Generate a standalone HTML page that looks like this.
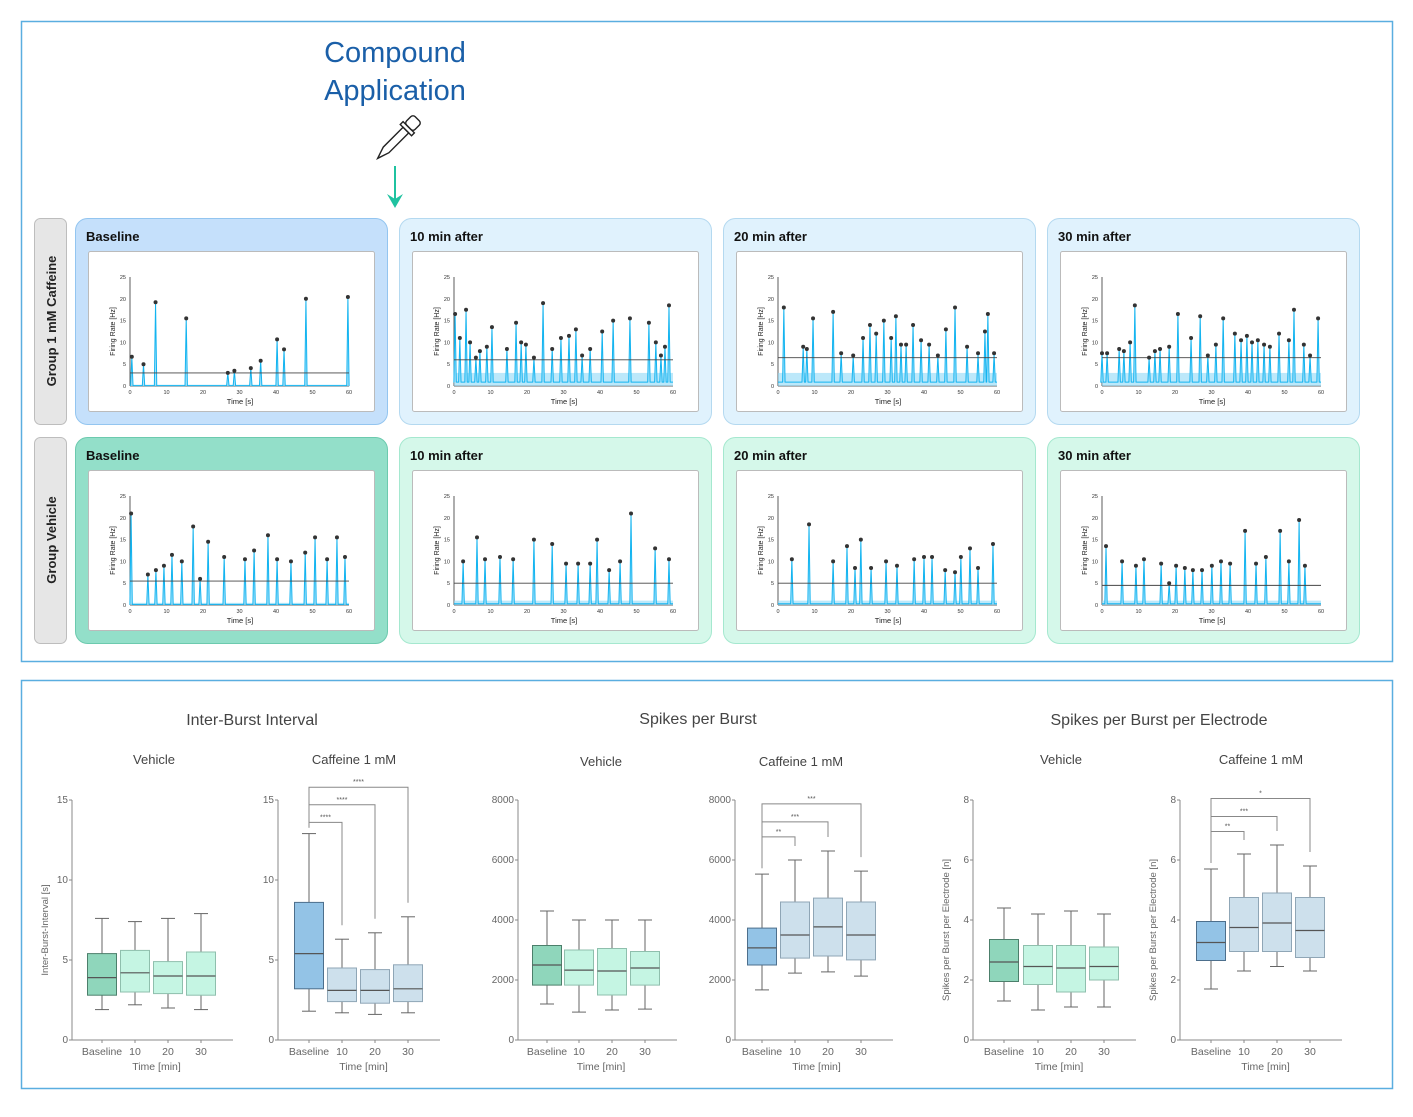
<!DOCTYPE html>
<html><head><meta charset="utf-8">
<style>
html,body{margin:0;padding:0;background:#fff;}
svg{display:block;font-family:"Liberation Sans",sans-serif;}
</style></head>
<body>
<svg id="fig" width="1413" height="1117" viewBox="0 0 1413 1117" xmlns="http://www.w3.org/2000/svg">
<rect x="21.5" y="21.5" width="1371" height="640" fill="none" stroke="#5aaee0" stroke-width="1.5"/>
<rect x="21.5" y="680.5" width="1371" height="408" fill="none" stroke="#5aaee0" stroke-width="1.5"/>
<text x="395" y="62" text-anchor="middle" font-size="29" fill="#1a5fa8">Compound</text>
<text x="395" y="100" text-anchor="middle" font-size="29" fill="#1a5fa8">Application</text>
<g transform="translate(396,140) rotate(45)" fill="none" stroke="#222" stroke-width="1.4">
<rect x="-6" y="-30" width="12" height="12" rx="3"/>
<rect x="-8" y="-18" width="16" height="4"/>
<path d="M-4,-14 L-4,14 L0,26 L4,14 L4,-14 Z"/>
</g>
<g stroke="#1fc2a0" stroke-width="2" fill="#1fc2a0">
<line x1="395" y1="166" x2="395" y2="200"/>
<path d="M387,194 L395,208 L403,194 L395,199 Z" stroke="none"/>
</g>
<g id="topG"></g>
<g id="bottomG"></g>
</svg>
<script>
// ---------- time series data (t in s, h in Hz) ----------
const r1bT=[0.5,3.7,7,15.4,26.8,28.6,33.1,35.8,40.3,42.2,48.2,59.7];
const r1bH=[6.7,5,19.2,15.5,3,3.5,4.1,5.8,10.7,8.4,20,20.4];
const r1aT=[0.3,1.6,3.3,4.4,6.0,7.1,9.0,10.4,14.5,17.0,18.4,19.7,21.9,24.4,26.9,29.3,31.5,33.4,35.1,37.3,40.6,43.6,48.2,53.4,55.3,56.7,57.8,58.9];
const r1aH=[16.5,11,17.5,10,6.5,8,9,13.5,8.5,14.5,10,9.5,6.5,19,8.5,11,11.5,13,7,8.5,12.5,15,15.5,14.5,10,7,9,18.5];
const r1cT=[1.6,6.9,7.9,9.6,15.1,17.3,20.6,23.3,25.2,26.9,29.0,31.0,32.3,33.7,35.1,37.0,39.2,41.4,43.8,46.0,48.5,51.8,54.8,56.7,57.5,59.2];
const r1cH=[18,9,8.5,15.5,17,7.5,7,11,14,12,15,11,16,9.5,9.5,14,10.5,9.5,7,13,18,9,7.5,12.5,16.5,7.5];
const r1dT=[0,1.4,4.7,6.0,7.7,9.0,12.9,14.5,15.9,18.4,20.8,24.4,26.9,29.0,31.2,33.2,36.4,38.1,39.7,41.1,42.7,44.4,46.0,48.5,51.2,52.6,55.3,57.0,59.2];
const r1dH=[7.5,7.5,8.5,8,10,18.5,6.5,8,8.5,9,16.5,11,16,7,9.5,15.5,12,10.5,11.5,10,10.5,9.5,9,12,10.5,17.5,9.5,7,15.5];
const r2bT=[0.3,4.9,7.1,9.3,11.5,14.2,17.3,19.2,21.4,25.8,31.5,34.0,37.8,40.3,44.1,48.0,50.7,54.0,56.7,58.9];
const r2bH=[21,7,8,9,11.5,10,18,6,14.5,11,10.5,12.5,16,10.5,10,12,15.5,10.5,15.5,11];
const r2aT=[2.5,6.3,8.5,12.6,16.2,21.9,26.9,30.7,34.0,37.3,39.2,42.5,45.5,48.5,55.1,58.9];
const r2aH=[10,15.5,10.5,11,10.5,15,14,9.5,9.5,9.5,15,8,10,21,13,10.5];
const r2cT=[3.8,8.5,15.1,18.9,21.1,22.7,25.5,29.6,32.6,37.3,40.0,42.2,45.8,48.5,50.1,52.6,54.8,58.9];
const r2cH=[10.5,18.5,10,13.5,8.5,15,8.5,10,9,10.5,11,11,8,7.5,11,13,8.5,14];
const r2dT=[1.1,5.5,9.3,11.5,16.2,18.4,20.3,22.7,24.9,27.4,30.1,32.6,35.1,39.2,42.2,44.9,48.8,51.2,54.0,55.6];
const r2dH=[13.5,10,9,10.5,9.5,5,9,8.5,8,8,9,10,9.5,17,9.5,11,17,10,19.5,9];
const thresholds=[3,6,6.5,6.5,5.5,5,5,4.5];
const noiseLevels=[0.3,3,3,3,0.5,1,1,1];
const panelTitles=["Baseline","10 min after","20 min after","30 min after"];
const tTicks=[0,10,20,30,40,50,60];
const fTicks=[0,5,10,15,20,25];

// ---------- box plot data [whiskerLow,q1,median,q3,whiskerHigh] ----------
const cats=["Baseline","10","20","30"];
const ibiVeh=[[1.9,2.8,3.9,5.4,7.6],[2.2,3.0,4.2,5.6,7.4],[2.0,2.9,4.0,4.9,7.6],[1.9,2.8,4.0,5.5,7.9]];
const ibiCaf=[[1.8,3.2,5.4,8.6,12.9],[1.7,2.4,3.1,4.5,6.3],[1.6,2.3,3.1,4.4,6.7],[1.7,2.4,3.2,4.7,7.7]];
const spbVeh=[[1200,1830,2500,3150,4300],[930,1830,2330,3000,4000],[1000,1500,2300,3050,4000],[1030,1830,2400,2950,4000]];
const spbCaf=[[1670,2500,3070,3730,5530],[2230,2730,3500,4600,6000],[2270,2800,3770,4730,6300],[2130,2670,3500,4600,5630]];
const speVeh=[[1.3,1.95,2.6,3.35,4.4],[1.0,1.85,2.45,3.15,4.2],[1.1,1.6,2.4,3.15,4.3],[1.1,2.0,2.45,3.1,4.2]];
const speCaf=[[1.7,2.65,3.25,3.95,5.7],[2.3,2.95,3.75,4.75,6.2],[2.45,2.95,3.9,4.9,6.5],[2.3,2.75,3.65,4.75,5.8]];
const ibiSig=[13.6,14.7,15.8], ibiStars=["****","****","****"];
const spbSig=[6770,7270,7870], spbStars=["**","***","***"];
const speSig=[6.95,7.45,8.05], speStars=["**","***","*"];

const NS="http://www.w3.org/2000/svg";
function mk(tag,attrs,parent,text){const e=document.createElementNS(NS,tag);for(const k in attrs)e.setAttribute(k,attrs[k]);if(text!==undefined)e.textContent=text;parent.appendChild(e);return e;}

const topGrp=document.getElementById('topG');
[["Group 1 mM Caffeine",218],["Group Vehicle",437]].forEach((r,i)=>{
  const g=mk('g',{},topGrp);
  
  
  mk('rect',{x:34.5,y:r[1]+0.5,width:32,height:206,rx:6,fill:'#e6e6e6',stroke:'#bdbdbd'},g);
  mk('text',{x:0,y:0,transform:`translate(56,${r[1]+103}) rotate(-90)`,'text-anchor':'middle','font-size':13,'font-weight':'bold',fill:'#222'},g,r[0]);
});
const series=[[r1bT,r1bH],[r1aT,r1aH],[r1cT,r1cH],[r1dT,r1dH],[r2bT,r2bH],[r2aT,r2aH],[r2cT,r2cH],[r2dT,r2dH]];
const pxs=[75,399,723,1047], pys=[218,437];
for(let p=0;p<8;p++){
  const row=Math.floor(p/4), col=p%4, X=pxs[col], Y=pys[row];
  const base=col===0;
  const bg=row===0?(base?'#c5e0fb':'#e0f2fd'):(base?'#93dfc9':'#d5f8ea');
  const bd=row===0?(base?'#93c5f0':'#b4d9f0'):(base?'#6ccaae':'#a5e8cf');
  const g=mk('g',{},topGrp);
  
  
  mk('rect',{x:X+0.5,y:Y+0.5,width:312,height:206,rx:12,fill:bg,stroke:bd},g);
  mk('text',{x:X+11,y:Y+23,'font-size':13,'font-weight':'bold',fill:'#111'},g,panelTitles[col]);
  mk('rect',{x:X+13.5,y:Y+33.5,width:286,height:160,rx:2,fill:'#fff',stroke:'#bbb'},g);
  const x0=X+55,x1=X+274,y0=Y+168,y25=Y+59;
  const sx=t=>x0+t/60*(x1-x0), sy=h=>y0-h/25*(y0-y25);
  mk('line',{x1:x0,y1:y25,x2:x0,y2:y0,stroke:'#333','stroke-width':0.8},g);
  mk('line',{x1:x0,y1:y0,x2:x1,y2:y0,stroke:'#333','stroke-width':0.8},g);
  fTicks.forEach(v=>{mk('text',{x:x0-4,y:sy(v)+2,'text-anchor':'end','font-size':5.5,fill:'#333'},g,v);});
  tTicks.forEach(v=>{mk('text',{x:sx(v),y:y0+8,'text-anchor':'middle','font-size':5.5,fill:'#333'},g,v);});
  mk('text',{x:X+165,y:Y+186,'text-anchor':'middle','font-size':7.5,fill:'#222'},g,'Time [s]');
  mk('text',{transform:`translate(${X+40},${(y0+y25)/2}) rotate(-90)`,'text-anchor':'middle','font-size':7,fill:'#222'},g,'Firing Rate [Hz]');
  const T=series[p][0],H=series[p][1];
  const nl=noiseLevels[p];
  mk('rect',{x:x0,y:sy(nl),width:x1-x0,height:y0-sy(nl),fill:'#8fd8f7',opacity:0.6},g);
  let d=`M${x0},${sy(nl*0.3)}`;
  T.forEach((t,i)=>{const cx=sx(t);d+=` L${cx-1.2},${sy(nl*0.3)} L${cx},${sy(H[i])} L${cx+1.2},${sy(nl*0.3)}`;});
  d+=` L${x1},${sy(nl*0.3)}`;
  mk('path',{d:d,fill:'#a8e3fb',stroke:'#13b4f0','stroke-width':1},g);
  mk('line',{x1:x0,y1:sy(thresholds[p]),x2:x1,y2:sy(thresholds[p]),stroke:'#444','stroke-width':0.9},g);
  T.forEach((t,i)=>{
    const c=mk('circle',{cx:sx(t),cy:sy(H[i]),r:2,fill:'#333'},g);
    
    
  });
}

const bottomGrp=document.getElementById('bottomG');
function boxplot(name,ax,ymax,ticks,data,centers,fills,edges,sig,stars,ytitle){
  const g=mk('g',{},bottomGrp);
  
  
  const y0=1040,yt=800, sy=v=>y0-v/ymax*(y0-yt);
  const xEnd=centers[3]+32;
  mk('line',{x1:ax,y1:yt,x2:ax,y2:y0,stroke:'#888','stroke-width':1},g);
  mk('line',{x1:ax,y1:y0,x2:xEnd,y2:y0,stroke:'#888','stroke-width':1},g);
  ticks.forEach(v=>{
    mk('line',{x1:ax-3,y1:sy(v),x2:ax,y2:sy(v),stroke:'#888'},g);
    mk('text',{x:ax-4,y:sy(v)+3,'text-anchor':'end','font-size':10,fill:'#666'},g,v);
  });
  cats.forEach((c,i)=>{
    mk('line',{x1:centers[i],y1:y0,x2:centers[i],y2:y0+3,stroke:'#888'},g);
    mk('text',{x:centers[i],y:y0+15,'text-anchor':'middle','font-size':10.5,fill:'#666'},g,c);
  });
  mk('text',{x:(centers[0]+centers[3])/2+5,y:y0+30,'text-anchor':'middle','font-size':10.5,fill:'#666'},g,'Time [min]');
  if(ytitle) mk('text',{transform:`translate(${ax-24},${(y0+yt)/2+10}) rotate(-90)`,'text-anchor':'middle','font-size':9.5,fill:'#666'},g,ytitle);
  data.forEach((b,i)=>{
    const cx=centers[i],w=29;
    const bg=mk('g',{},g);
    
    
    mk('line',{x1:cx,y1:sy(b[0]),x2:cx,y2:sy(b[1]),stroke:'#666'},bg);
    mk('line',{x1:cx,y1:sy(b[3]),x2:cx,y2:sy(b[4]),stroke:'#666'},bg);
    mk('line',{x1:cx-7,y1:sy(b[0]),x2:cx+7,y2:sy(b[0]),stroke:'#666'},bg);
    mk('line',{x1:cx-7,y1:sy(b[4]),x2:cx+7,y2:sy(b[4]),stroke:'#666'},bg);
    mk('rect',{x:cx-w/2,y:sy(b[3]),width:w,height:sy(b[1])-sy(b[3]),fill:fills[i],stroke:edges[i]},bg);
    mk('line',{x1:cx-w/2,y1:sy(b[2]),x2:cx+w/2,y2:sy(b[2]),stroke:'#555','stroke-width':1.2},bg);
  });
  if(sig){
    sig.forEach((s,k)=>{
      const xe=centers[k+1], ys=sy(s);
      mk('polyline',{points:`${centers[0]},${sy(data[0][4])-6} ${centers[0]},${ys} ${xe},${ys} ${xe},${sy(data[k+1][4])-14}`,fill:'none',stroke:'#888'},g);
      mk('text',{x:(centers[0]+xe)/2,y:ys-3,'text-anchor':'middle','font-size':7,fill:'#555'},g,stars[k]);
    });
  }
}
const vehF=['#8fd6bb','#c5f5e3','#c5f5e3','#c5f5e3'], vehE=['#4c7f6b','#8fbfad','#8fbfad','#8fbfad'];
const cafF=['#93c3e6','#cde0ec','#cde0ec','#cde0ec'], cafE=['#4d6f8c','#8fa6b6','#8fa6b6','#8fa6b6'];
boxplot('ibi-vehicle',72,15,[0,5,10,15],ibiVeh,[102,135,168,201],vehF,vehE,null,null,'Inter-Burst-Interval [s]');
boxplot('ibi-caffeine',278,15,[0,5,10,15],ibiCaf,[309,342,375,408],cafF,cafE,ibiSig,ibiStars,null);
boxplot('spb-vehicle',518,8000,[0,2000,4000,6000,8000],spbVeh,[547,579,612,645],vehF,vehE,null,null,null);
boxplot('spb-caffeine',735,8000,[0,2000,4000,6000,8000],spbCaf,[762,795,828,861],cafF,cafE,spbSig,spbStars,null);
boxplot('spe-vehicle',973,8,[0,2,4,6,8],speVeh,[1004,1038,1071,1104],vehF,vehE,null,null,'Spikes per Burst per Electrode [n]');
boxplot('spe-caffeine',1180,8,[0,2,4,6,8],speCaf,[1211,1244,1277,1310],cafF,cafE,speSig,speStars,'Spikes per Burst per Electrode [n]');
[["Inter-Burst Interval",252,725,16],["Vehicle",154,764,13],["Caffeine 1 mM",354,764,13],
 ["Spikes per Burst",698,724,16],["Vehicle",601,766,13],["Caffeine 1 mM",801,766,13],
 ["Spikes per Burst per Electrode",1159,725,16],["Vehicle",1061,764,13],["Caffeine 1 mM",1261,764,13]].forEach(t=>{
  const e=mk('text',{x:t[1],y:t[2],'text-anchor':'middle','font-size':t[3],fill:'#444'},bottomGrp,t[0]);
  
  
});
</script>
</body></html>
